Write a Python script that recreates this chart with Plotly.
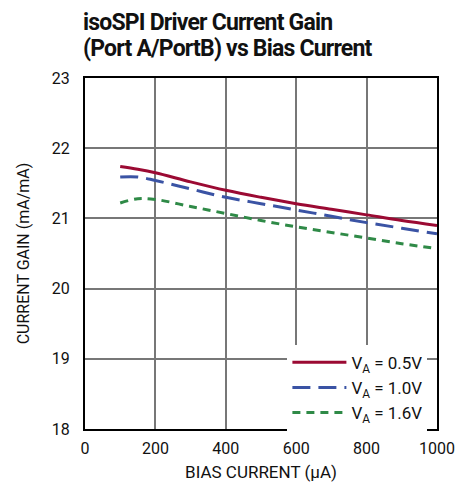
import plotly.graph_objects as go

bias = [100, 150, 200, 300, 400, 500, 600, 700, 800, 900, 1000]
gain_05 = [21.74, 21.70, 21.65, 21.52, 21.40, 21.30, 21.21, 21.13, 21.05, 20.97, 20.90]
gain_10 = [21.59, 21.59, 21.54, 21.42, 21.30, 21.21, 21.12, 21.03, 20.94, 20.86, 20.78]
gain_16 = [21.22, 21.28, 21.27, 21.17, 21.07, 20.97, 20.88, 20.80, 20.72, 20.64, 20.57]

names = ["V<sub>A</sub> = 0.5V", "V<sub>A</sub> = 1.0V", "V<sub>A</sub> = 1.6V"]
colors = ["#9b0a33", "#3a53a4", "#2f8a47"]
dashes = ["solid", "18px,8px", "8px,6px"]
title_lines = ["isoSPI Driver Current Gain", "(Port A/PortB) vs Bias Current"]

FONT = "Roboto, Liberation Sans, sans-serif"

fig = go.Figure()
for y, n, c, d in zip([gain_05, gain_10, gain_16], names, colors, dashes):
    fig.add_trace(go.Scatter(x=bias, y=y, mode="lines", name=n,
                             line=dict(color=c, width=3, dash=d, shape="spline")))

for txt, yy in zip(title_lines, [1.158, 1.084]):
    fig.add_annotation(text='<span style="letter-spacing:-0.8px">' + txt + '</span>',
                       xref="paper", yref="paper", x=-0.008, y=yy,
                       xanchor="left", yanchor="middle", showarrow=False,
                       borderpad=0,
                       font=dict(family=FONT, size=23, color="#111", weight="bold"))

fig.update_layout(
    width=463, height=483,
    margin=dict(l=77, r=34, t=70, b=62),
    paper_bgcolor="white", plot_bgcolor="white",
    font=dict(family=FONT, size=16, color="#111"),
    showlegend=True,
    legend=dict(x=0.575, xanchor="left", y=0.24, yanchor="top",
                bgcolor="white", borderwidth=0, font=dict(size=17),
                itemwidth=54, tracegroupgap=0),
    xaxis=dict(range=[0, 1000], tickvals=[0, 200, 400, 600, 800, 1000],
               showgrid=True, gridcolor="#777", gridwidth=1.5,
               showline=True, linecolor="black", linewidth=2, mirror=True,
               ticks="", zeroline=False, ticklabelstandoff=4,
               title=dict(text="BIAS CURRENT (µA)", font=dict(size=17), standoff=9)),
    yaxis=dict(range=[18, 23], tickvals=[18, 19, 20, 21, 22, 23],
               showgrid=True, gridcolor="#777", gridwidth=1.5,
               showline=True, linecolor="black", linewidth=2, mirror=True,
               ticks="", zeroline=False, ticklabelstandoff=10,
               title=dict(text="CURRENT GAIN (mA/mA)", font=dict(size=16), standoff=18)),
)

fig.write_html("out.html")
